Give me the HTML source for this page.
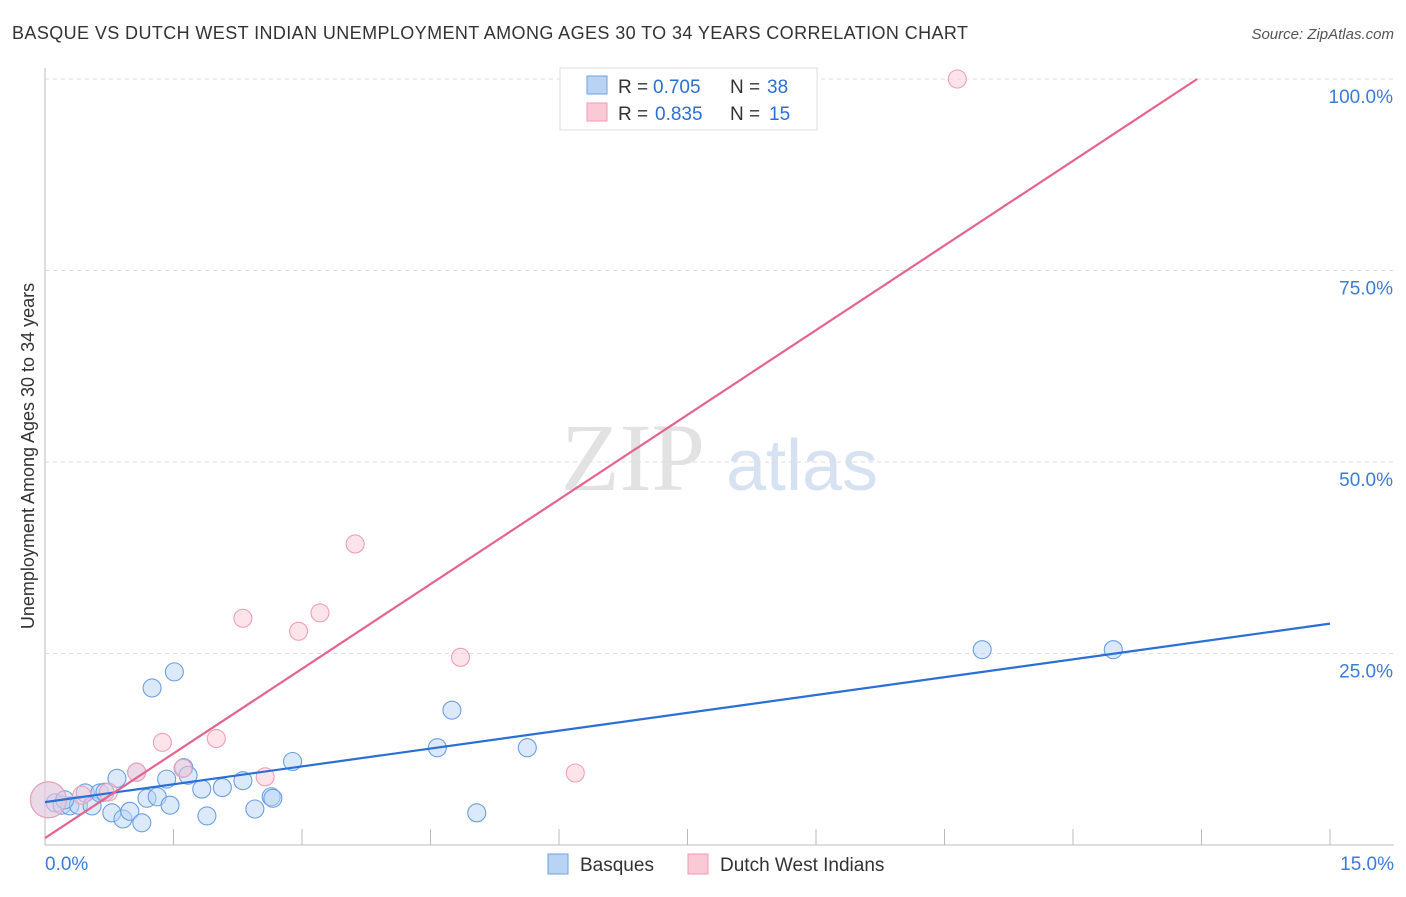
<!DOCTYPE html>
<html><head><meta charset="utf-8"><style>
body{margin:0;background:#fff;font-family:"Liberation Sans",sans-serif;}
</style></head><body>
<svg id="chart" width="1406" height="892" xmlns="http://www.w3.org/2000/svg">
<text x="12" y="39" font-size="18" fill="#333" textLength="956" lengthAdjust="spacing">BASQUE VS DUTCH WEST INDIAN UNEMPLOYMENT AMONG AGES 30 TO 34 YEARS CORRELATION CHART</text>
<text x="1394" y="39" font-size="15" fill="#555" font-style="italic" text-anchor="end">Source: ZipAtlas.com</text>
<text x="633" y="490" font-size="96" fill="#e2e2e2" font-family="Liberation Serif,serif" text-anchor="middle">ZIP</text>
<text x="802" y="490" font-size="72" fill="#d6e2f2" text-anchor="middle">atlas</text>
<text transform="translate(34,456) rotate(-90)" font-size="18" fill="#333" text-anchor="middle">Unemployment Among Ages 30 to 34 years</text>
<g id="grid"></g><g id="marks"></g>
<g>
<rect x="560" y="68" width="257" height="62" fill="#fff" stroke="#ddd"/>
<rect x="587" y="76" width="20" height="18" fill="#b9d3f5" stroke="#6fa0e0"/>
<rect x="587" y="103" width="20" height="18" fill="#f9c9d6" stroke="#ef9ab2"/>
<text x="618" y="93" font-size="19" fill="#333">R =</text><text x="653" y="93" font-size="19" fill="#2a6fd6">0.705</text>
<text x="730" y="93" font-size="19" fill="#333">N =</text><text x="767" y="93" font-size="19" fill="#2a6fd6">38</text>
<text x="618" y="120" font-size="19" fill="#333">R =</text><text x="655" y="120" font-size="19" fill="#2a6fd6">0.835</text>
<text x="730" y="120" font-size="19" fill="#333">N =</text><text x="769" y="120" font-size="19" fill="#2a6fd6">15</text>
</g>
<g>
<rect x="548" y="854" width="20" height="20" fill="#b9d3f5" stroke="#6fa0e0"/>
<text x="580" y="871" font-size="19" fill="#333">Basques</text>
<rect x="688" y="854" width="20" height="20" fill="#f9c9d6" stroke="#ef9ab2"/>
<text x="720" y="871" font-size="19" fill="#333">Dutch West Indians</text>
</g>
</svg>
<script>
const blueX=[0.04,0.12,0.20,0.29,0.39,0.47,0.55,0.64,0.70,0.78,0.84,0.91,0.99,1.07,1.13,1.19,1.25,1.31,1.42,1.46,1.51,1.62,1.67,1.83,1.89,2.07,2.31,2.45,2.64,2.66,2.89,4.58,4.75,5.04,5.63,10.94,12.47,0.23];
const blueY=[5.9,5.5,5.2,5.1,5.2,6.8,5.1,6.8,6.9,4.2,8.7,3.4,4.4,9.5,2.9,6.1,20.5,6.3,8.6,5.2,22.6,10.1,9.1,7.3,3.8,7.5,8.4,4.7,6.3,6.1,10.9,12.7,17.6,4.2,12.7,25.5,25.5,5.9];
const pinkX=[0.04,0.43,0.74,1.07,1.37,1.61,2.00,2.31,2.57,2.96,3.21,3.62,4.85,6.19,10.65];
const pinkY=[5.9,6.5,6.9,9.5,13.4,10.0,13.9,29.6,8.9,27.9,30.3,39.3,24.5,9.4,100.0];
const blueLine=[5.6,28.9];   // y at x=0, x=15
const pinkLine=[0.9,100.0,13.45]; // y at 0, y at end, end x
const yTicks=[25,50,75,100];
const xTickLabels=["0.0%","15.0%"];
const NS="http://www.w3.org/2000/svg";
const sx=v=>45+v/15*1285, sy=v=>845-v/100*766;
function el(t,a,p){const e=document.createElementNS(NS,t);for(const k in a)e.setAttribute(k,a[k]);p.appendChild(e);return e;}
const grid=document.getElementById('grid'),marks=document.getElementById('marks');
yTicks.forEach(t=>{
 const l=el('line',{x1:45,x2:1394,y1:sy(t),y2:sy(t),stroke:'#ddd','stroke-dasharray':'4,4'},grid);
 
 
 const tx=el('text',{x:1393,y:sy(t)+24,'font-size':19,fill:'#3d7bd9','text-anchor':'end'},grid);
 tx.textContent=t.toFixed(1)+'%';
 
 
});
const ax=el('line',{x1:45,x2:1394,y1:845,y2:845,stroke:'#bbb'},grid);


const ay=el('line',{x1:45,x2:45,y1:68,y2:845,stroke:'#bbb'},grid);


for(let i=1;i<=10;i++){const x=sx(i*1.5);
 const t=el('line',{x1:x,x2:x,y1:829,y2:845,stroke:'#bbb'},grid);
 
 }
[[0,'start',45],[15,'end',1394]].forEach((d,i)=>{
 const t=el('text',{x:d[2],y:870,'font-size':19,fill:'#3d7bd9','text-anchor':d[1]},grid);
 t.textContent=xTickLabels[i];
 
 });
function pts(X,Y,fill,stroke,name){X.forEach((x,i)=>{
 const c=el('circle',{cx:sx(x),cy:sy(Y[i]),r:i===0?18:9,fill:fill,'fill-opacity':0.5,stroke:stroke,'stroke-width':1.1},marks);
 
 });}
pts(blueX,blueY,'#b9d3f5','#6b9fe2','basque-point');
pts(pinkX,pinkY,'#f9c9d6','#ef9fb6','dutch-point');
const bl=el('line',{x1:sx(0),y1:sy(blueLine[0]),x2:sx(15),y2:sy(blueLine[1]),stroke:'#2a6fd6','stroke-width':2.2},marks);


const pl=el('line',{x1:sx(0),y1:sy(pinkLine[0]),x2:sx(pinkLine[2]),y2:sy(pinkLine[1]),stroke:'#e4648d','stroke-width':2.2},marks);


</script>
</body></html>
